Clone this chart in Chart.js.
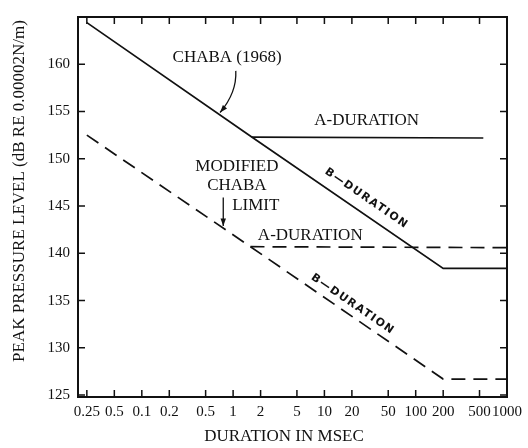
<!DOCTYPE html>
<html lang="en">
<head>
<meta charset="UTF-8">
<title>Peak pressure level vs duration</title>
<script src="https://cdn.jsdelivr.net/npm/chart.js"></script>
<style>
  body { margin: 0; background: #fff; }
  #chart { display: block; }
</style>
</head>
<body>
<canvas id="chart" width="528" height="448"></canvas>
<script>
// duration in ms, peak level in dB
const chabaBX = [0.025, 1.6, 200, 1000];
const chabaBY = [164.4, 152.3, 138.4, 138.4];
const chabaAX = [1.6, 550];
const chabaAY = [152.3, 152.2];
const modBX = [0.025, 1.55, 200, 1000];
const modBY = [152.5, 140.7, 126.7, 126.7];
const modAX = [1.55, 1000];
const modAY = [140.7, 140.6];

const xTicks = [0.025, 0.05, 0.1, 0.2, 0.5, 1, 2, 5, 10, 20, 50, 100, 200, 500, 1000];
const xTickLabels = ['0.25', '0.5', '0.1', '0.2', '0.5', '1', '2', '5', '10', '20', '50', '100', '200', '500', '1000'];
const yTicks = [125, 130, 135, 140, 145, 150, 155, 160];

const ink = '#111';
const serif = '"Liberation Serif", "DejaVu Serif", serif';

// text placed in data coordinates (ms, dB)
const notes = [
  { text: 'CHABA (1968)', x: 0.86, y: 160.7 },
  { text: 'A-DURATION', x: 29, y: 154.0 },
  { text: 'MODIFIED', x: 1.1, y: 149.2 },
  { text: 'CHABA', x: 1.1, y: 147.15 },
  { text: 'LIMIT', x: 1.77, y: 145.05 },
  { text: 'A-DURATION', x: 7.0, y: 141.9 }
];
const slanted = [
  { text: 'B\u2014DURATION', x: 29, y: 145.8 },
  { text: 'B\u2014DURATION', x: 20.5, y: 134.6 }
];

function points(xs, ys) {
  return xs.map((v, i) => ({ x: v, y: ys[i] }));
}

function arrowHead(ctx, fx, fy, tx, ty) {
  const ang = Math.atan2(ty - fy, tx - fx);
  ctx.beginPath();
  ctx.moveTo(tx, ty);
  ctx.lineTo(tx - 8 * Math.cos(ang - 0.35), ty - 8 * Math.sin(ang - 0.35));
  ctx.lineTo(tx - 8 * Math.cos(ang + 0.35), ty - 8 * Math.sin(ang + 0.35));
  ctx.closePath();
  ctx.fill();
}

const figure = {
  id: 'figure',
  afterDatasetsDraw(chart) {
    const { ctx, chartArea: a } = chart;
    const x = chart.scales.x, y = chart.scales.y;
    ctx.save();
    ctx.strokeStyle = ink;
    ctx.fillStyle = ink;

    // frame and inward ticks
    ctx.lineWidth = 2;
    ctx.strokeRect(a.left, a.top, a.right - a.left, a.bottom - a.top);
    ctx.lineWidth = 1.5;
    ctx.beginPath();
    xTicks.forEach(v => {
      const px = x.getPixelForValue(v);
      ctx.moveTo(px, a.bottom); ctx.lineTo(px, a.bottom - 7);
      ctx.moveTo(px, a.top); ctx.lineTo(px, a.top + 7);
    });
    yTicks.forEach(v => {
      const py = y.getPixelForValue(v);
      ctx.moveTo(a.left, py); ctx.lineTo(a.left + 7, py);
      ctx.moveTo(a.right, py); ctx.lineTo(a.right - 7, py);
    });
    ctx.stroke();

    // labels
    ctx.font = '17px ' + serif;
    ctx.textAlign = 'center';
    ctx.textBaseline = 'middle';
    notes.forEach(n => ctx.fillText(n.text, x.getPixelForValue(n.x), y.getPixelForValue(n.y)));

    ctx.font = 'bold 11px "DejaVu Sans", sans-serif';
    ctx.letterSpacing = '1.5px';
    slanted.forEach(n => {
      ctx.save();
      ctx.translate(x.getPixelForValue(n.x), y.getPixelForValue(n.y));
      ctx.rotate(34.5 * Math.PI / 180);
      ctx.fillText(n.text, 0, 0);
      ctx.restore();
    });
    ctx.letterSpacing = '0px';

    // arrow to CHABA (1968)
    ctx.lineWidth = 1.3;
    const s1 = [x.getPixelForValue(1.07), y.getPixelForValue(159.3)];
    const c1 = [x.getPixelForValue(1.1), y.getPixelForValue(157.0)];
    const e1 = [x.getPixelForValue(0.72), y.getPixelForValue(154.9)];
    ctx.beginPath();
    ctx.moveTo(s1[0], s1[1]);
    ctx.quadraticCurveTo(c1[0], c1[1], e1[0], e1[1]);
    ctx.stroke();
    arrowHead(ctx, c1[0], c1[1], e1[0], e1[1]);

    // arrow to modified limit
    const ax = x.getPixelForValue(0.78);
    const s2 = y.getPixelForValue(145.9), e2 = y.getPixelForValue(142.9);
    ctx.beginPath();
    ctx.moveTo(ax, s2);
    ctx.lineTo(ax, e2);
    ctx.stroke();
    arrowHead(ctx, ax, s2, ax, e2);

    // axis titles
    ctx.font = '17px ' + serif;
    ctx.fillText('DURATION IN MSEC', 284, 437);
    ctx.save();
    ctx.translate(20, 191);
    ctx.rotate(-Math.PI / 2);
    ctx.fillText('PEAK PRESSURE LEVEL (dB RE 0.00002N/m)', 0, 0);
    ctx.restore();

    ctx.restore();
  }
};

const solid = { borderColor: ink, borderWidth: 1.7, pointRadius: 0, fill: false, tension: 0 };
const dashed = { ...solid, borderDash: [14, 8] };

new Chart(document.getElementById('chart'), {
  type: 'line',
  data: {
    datasets: [
      { ...solid, label: 'CHABA B-duration', data: points(chabaBX, chabaBY) },
      { ...solid, label: 'CHABA A-duration', data: points(chabaAX, chabaAY) },
      { ...dashed, label: 'Modified B-duration', data: points(modBX, modBY) },
      { ...dashed, label: 'Modified A-duration', data: points(modAX, modAY) }
    ]
  },
  options: {
    responsive: false,
    animation: false,
    layout: { padding: { left: 0, right: 18, top: 12, bottom: 0 } },
    plugins: { legend: { display: false }, tooltip: { enabled: false } },
    scales: {
      x: {
        type: 'logarithmic',
        min: 0.02,
        max: 1000,
        afterBuildTicks: s => { s.ticks = xTicks.map(v => ({ value: v })); },
        afterFit: s => { s.height = 51; },
        grid: { display: false, drawTicks: false },
        border: { display: false },
        ticks: {
          autoSkip: false,
          maxRotation: 0,
          padding: 6,
          color: ink,
          font: { family: serif, size: 15 },
          callback: (v, i) => xTickLabels[i]
        }
      },
      y: {
        type: 'linear',
        min: 124.8,
        max: 165,
        afterBuildTicks: s => { s.ticks = yTicks.map(v => ({ value: v })); },
        afterFit: s => { s.width = 78; },
        grid: { display: false, drawTicks: false },
        border: { display: false },
        ticks: {
          padding: 8,
          color: ink,
          font: { family: serif, size: 15 },
          callback: v => String(v)
        }
      }
    }
  },
  plugins: [figure]
});
</script>
</body>
</html>
